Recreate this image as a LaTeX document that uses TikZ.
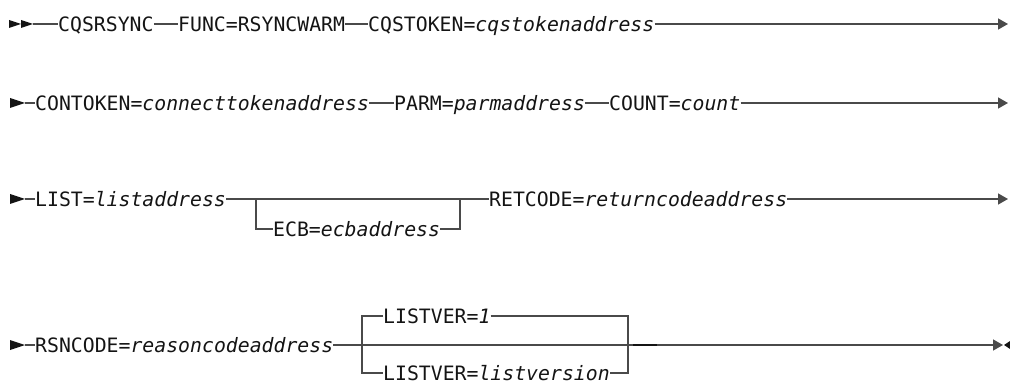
\documentclass[tikz,border=0pt]{standalone}
\usepackage{fontspec}
\setmainfont{DejaVu Sans Mono}[ItalicFont={DejaVu Sans Mono Oblique}]
\usetikzlibrary{arrows.meta}
\definecolor{rail}{HTML}{4A4A4A}
\definecolor{ink}{HTML}{141414}

\begin{document}
\begin{tikzpicture}[x=1pt,y=-1pt,line cap=butt,
  kw/.style={anchor=west,inner sep=0pt,text height=14.4pt,text depth=0pt,text=ink,font=\fontsize{19.8}{22}\selectfont},
  rail/.style={draw=rail,line width=1.4pt},
  tip/.style={-{Triangle[length=10pt,width=11pt]}}]
  \useasboundingbox (0,0) rectangle (1010,382);

  % row 1
  \fill[ink] (9,20) -- (21,24) -- (9,28) -- cycle;
  \fill[ink] (21,20) -- (33,24) -- (21,28) -- cycle;
  \coordinate (s1) at (33,24);
  \coordinate (e1) at (1008,24);
  \node[kw] (cqs) at (58,24) {CQSRSYNC};
  \node[kw] (func) at (178,24) {FUNC=RSYNCWARM};
  \node[kw] (tok) at (368,24) {CQSTOKEN=\textit{cqstokenaddress}};
  \draw[rail] (s1) -- (cqs);
  \draw[rail] (cqs) -- (func);
  \draw[rail] (func) -- (tok);
  \draw[rail,tip] (tok) -- (e1);

  % start marks, rows 2-4
  \foreach \y in {103,199,345}{
    \fill[ink] (10,\y-5) -- (25,\y) -- (10,\y+5) -- cycle;
  }

  % row 2
  \coordinate (s2) at (25,103);
  \coordinate (e2) at (1008,103);
  \node[kw] (con) at (35,103) {CONTOKEN=\textit{connecttokenaddress}};
  \node[kw] (parm) at (394,103) {PARM=\textit{parmaddress}};
  \node[kw] (cnt) at (609,103) {COUNT=\textit{count}};
  \draw[rail] (s2) -- (con);
  \draw[rail] (con) -- (parm);
  \draw[rail] (parm) -- (cnt);
  \draw[rail,tip] (cnt) -- (e2);

  % row 3
  \coordinate (s3) at (25,199);
  \coordinate (e3) at (1008,199);
  \coordinate (b3l) at (256,199);
  \coordinate (b3r) at (460,199);
  \node[kw] (lst) at (35,199) {LIST=\textit{listaddress}};
  \node[kw] (ecb) at (273,229) {ECB=\textit{ecbaddress}};
  \node[kw] (ret) at (489,199) {RETCODE=\textit{returncodeaddress}};
  \draw[rail] (s3) -- (lst);
  \draw[rail] (lst) -- (ret);
  \draw[rail] (b3l) |- (ecb);
  \draw[rail] (ecb) -| (b3r);
  \draw[rail,tip] (ret) -- (e3);

  % row 4
  \coordinate (s4) at (25,345);
  \coordinate (e4) at (1003,345);
  \coordinate (b4l) at (362,345);
  \coordinate (b4r) at (628,345);
  \node[kw] (rsn) at (35,345) {RSNCODE=\textit{reasoncodeaddress}};
  \node[kw] (lv1) at (383,316) {LISTVER=\textit{1}};
  \node[kw] (lvv) at (383,373) {LISTVER=\textit{listversion}};
  \draw[rail] (s4) -- (rsn);
  \draw[rail,tip] (rsn) -- (e4);
  \draw[rail] (lv1) -| (b4l) |- (lvv);
  \draw[rail] (lv1) -| (b4r) |- (lvv);
  \draw[ink,line width=2.2pt] (633,345) -- (657,345);
  \fill[ink] (1010,341) -- (1004,345) -- (1010,349) -- cycle;
\end{tikzpicture}
\end{document}
